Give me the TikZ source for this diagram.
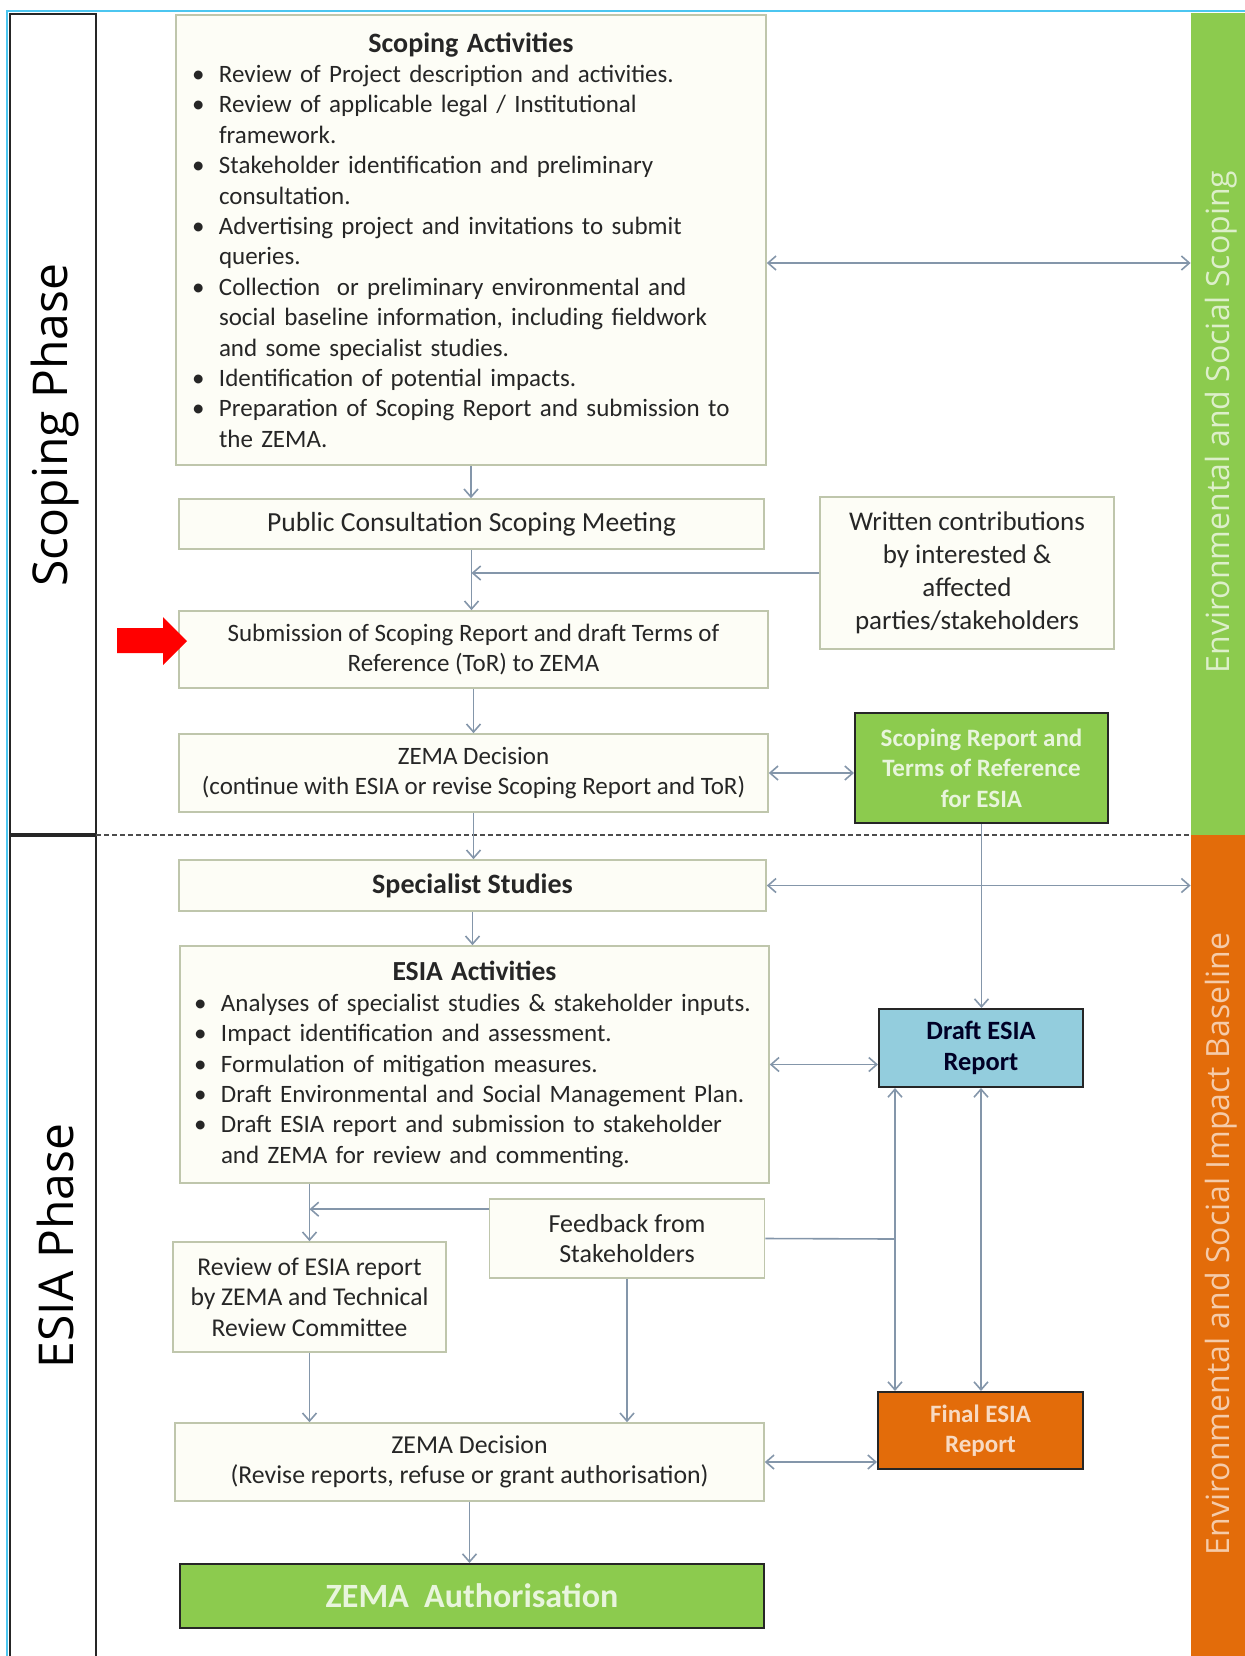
\documentclass[tikz,border=0pt]{standalone}
\usepackage{fontspec}
\setmainfont{Carlito}
\newfontfamily\phasefont{Open Sans}
\usetikzlibrary{arrows.meta}

\definecolor{esgreen}{HTML}{8CCB4E}
\definecolor{esorange}{HTML}{E36C0A}
\definecolor{esblue}{HTML}{93CDDD}
\definecolor{boxfill}{HTML}{FDFDF6}
\definecolor{boxline}{HTML}{BFC6AC}
\definecolor{arrowcol}{HTML}{8496AA}
\definecolor{framecyan}{HTML}{4CC6F0}
\definecolor{txtcol}{HTML}{262626}

\newcommand{\bitem}{\makebox[13.5pt][l]{\textbullet}}
\newcommand{\bcont}{\hspace*{13.5pt}}
\newcommand{\bodysize}{\fontsize{12.5}{15.2}\selectfont}

\begin{document}
\begin{tikzpicture}[x=0.5pt,y=-0.5pt,
  every node/.style={font=\bodysize,text=txtcol},
  box/.style={draw=boxline,fill=boxfill,line width=0.8pt,align=center,inner sep=0pt},
  listbox/.style={box,align=left,inner xsep=8pt},
  solidbox/.style={draw=black!85,line width=1pt,align=center,inner sep=0pt,font=\bodysize\bfseries},
  barlabel/.style={rotate=90,font=\phasefont\fontsize{16}{18}\selectfont},
  phaselabel/.style={rotate=90,font=\phasefont\fontsize{24}{28}\selectfont,text=black},
  conn/.style={draw=arrowcol,line width=0.8pt,-{Straight Barb[length=4pt,width=7pt]}},
  dbl/.style={conn,{Straight Barb[length=4pt,width=7pt]}-{Straight Barb[length=4pt,width=7pt]}}]

\useasboundingbox (0,0) rectangle (1245,1656);

% frame and phase column
\draw[framecyan,line width=1pt] (7,1656) -- (7,11) -- (1245,11);
\draw[black!85,line width=1pt] (10,1656) -- (10,14) -- (96,14) -- (96,1656);
\draw[black!85,line width=2pt] (10,835) -- (96,835);
\draw[black!70,line width=0.8pt,dash pattern=on 2.5pt off 1.5pt] (96,835) -- (1191,835);
\node[phaselabel] (scopphase) at (55,425) {Scoping Phase};
\node[phaselabel] (esiaphase) at (55,1246) {ESIA Phase};

% side bars
\node[fill=esgreen,minimum width=27pt,minimum height=411pt,inner sep=0pt] (scopbar) at (1218,424) {};
\node[fill=esorange,minimum width=27pt,minimum height=410.5pt,inner sep=0pt] (basebar) at (1218,1245.5) {};
\node[barlabel,text=esgreen!30!white] (scoplab) at (1221,422) {Environmental and Social Scoping};
\node[barlabel,text=esorange!35!white] (baselab) at (1221,1244) {Environmental and Social Impact Baseline};

% scoping phase
\node[listbox,text width=279pt,minimum height=225pt] (scopact) at (471,240) {%
  \makebox[\hsize][c]{\fontsize{14}{15.2}\selectfont\bfseries Scoping Activities}\\
  \bitem Review of Project description and activities.\\
  \bitem Review of applicable legal / Institutional\\
  \bcont framework.\\
  \bitem Stakeholder identification and preliminary\\
  \bcont consultation.\\
  \bitem Advertising project and invitations to submit\\
  \bcont queries.\\
  \bitem Collection\ \ or preliminary environmental and\\
  \bcont social baseline information, including fieldwork\\
  \bcont and some specialist studies.\\
  \bitem Identification of potential impacts.\\
  \bitem Preparation of Scoping Report and submission to\\
  \bcont the ZEMA.};
\node[box,minimum width=292.5pt,minimum height=25pt,font=\fontsize{13.8}{16}\selectfont] (pubcons) at (471.5,524) {Public Consultation Scoping Meeting};
\node[box,minimum width=147pt,minimum height=76pt,font=\fontsize{13.5}{16.5}\selectfont] (written) at (967,573)
  {Written contributions\\by interested \&\\affected\\parties/stakeholders};
\node[box,minimum width=294.5pt,minimum height=38.5pt] (submit) at (473.5,649.5)
  {Submission of Scoping Report and draft Terms of\\Reference (ToR) to ZEMA};
\node[box,minimum width=294.5pt,minimum height=39pt] (decide1) at (473.5,773)
  {ZEMA Decision\\(continue with ESIA or revise Scoping Report and ToR)};
\node[solidbox,fill=esgreen,text=esgreen!20!white,minimum width=126.5pt,minimum height=55pt] (scoprep) at (981.5,768)
  {Scoping Report and\\Terms of Reference\\for ESIA};
\fill[red] (117,628) -- (163,628) -- (163,617) -- (187,641) -- (163,665) -- (163,653) -- (117,653) -- cycle;

% esia phase
\node[box,minimum width=293.5pt,minimum height=25.5pt,font=\fontsize{14}{16}\selectfont\bfseries] (special) at (472.5,885.5) {Specialist Studies};
\node[listbox,inner xsep=7pt,text width=280.5pt,minimum height=118.5pt] (esiaact) at (474.5,1064.5) {%
  \makebox[\hsize][c]{\fontsize{13.8}{15.2}\selectfont\bfseries ESIA Activities}\\
  \bitem Analyses of specialist studies \& stakeholder inputs.\\
  \bitem Impact identification and assessment.\\
  \bitem Formulation of mitigation measures.\\
  \bitem Draft Environmental and Social Management Plan.\\
  \bitem Draft ESIA report and submission to stakeholder\\
  \bcont and ZEMA for review and commenting.};
\node[solidbox,fill=esblue,text=black!85!blue,minimum width=102pt,minimum height=39pt,font=\fontsize{13.2}{15.2}\selectfont\bfseries] (draft) at (981,1048) {Draft ESIA\\Report};
\node[box,minimum width=137.5pt,minimum height=39.5pt,font=\fontsize{13}{15.2}\selectfont] (feedback) at (627,1238.5) {Feedback from\\Stakeholders};
\node[box,minimum width=136.5pt,minimum height=55pt,font=\fontsize{12.8}{15.2}\selectfont] (review) at (309.5,1297)
  {Review of ESIA report\\by ZEMA and Technical\\Review Committee};
\node[box,minimum width=294.5pt,minimum height=39pt,font=\fontsize{12.9}{15.2}\selectfont] (decide2) at (469.5,1462)
  {ZEMA Decision\\(Revise reports, refuse or grant authorisation)};
\node[solidbox,fill=esorange,text=esorange!25!white,minimum width=102.5pt,minimum height=38.5pt] (final) at (980.5,1430.5) {Final ESIA\\Report};
\node[solidbox,fill=esgreen,text=esgreen!20!white,minimum width=292pt,minimum height=32pt,font=\fontsize{17}{20}\selectfont\bfseries] (auth) at (472,1596) {ZEMA\ \ Authorisation};

% connectors
\draw[conn] (scopact.south) -- (scopact.south |- pubcons.north);
\draw[dbl] ([yshift=-11.5pt]scopact.east) -- ([yshift=-11.5pt]scopact.east -| scopbar.west);
\draw[conn] (pubcons.south) -- (pubcons.south |- submit.north);
\draw[conn] (written.west) -- (pubcons.south |- written.west);
\draw[conn] (submit.south) -- (submit.south |- decide1.north);
\draw[dbl] (decide1.east) -- (decide1.east -| scoprep.west);
\draw[conn] (decide1.south) -- (decide1.south |- special.north);
\draw[conn] (scoprep.south) -- (scoprep.south |- draft.north);
\draw[dbl] (special.east) -- (special.east -| basebar.west);
\draw[conn] (special.south) -- (special.south |- esiaact.north);
\draw[dbl] (esiaact.east) -- (esiaact.east -| draft.west);
\draw[conn] (review.north |- esiaact.south) -- (review.north);
\draw[conn] ([yshift=-5.5pt]feedback.north west) -- ([yshift=-5.5pt]feedback.north west -| review.north);
\coordinate (join) at (895,1239);
\draw[draw=arrowcol,line width=0.8pt] (feedback.east) -- (join);
\draw[dbl] (join |- draft.south) -- (join |- final.north);
\draw[dbl] (draft.south) -- (draft.south |- final.north);
\draw[conn] (feedback.south) -- (feedback.south |- decide2.north);
\draw[conn] (review.south) -- (review.south |- decide2.north);
\draw[dbl] (decide2.east) -- (decide2.east -| final.west);
\draw[conn] (decide2.south) -- (decide2.south |- auth.north);
\end{tikzpicture}
\end{document}
